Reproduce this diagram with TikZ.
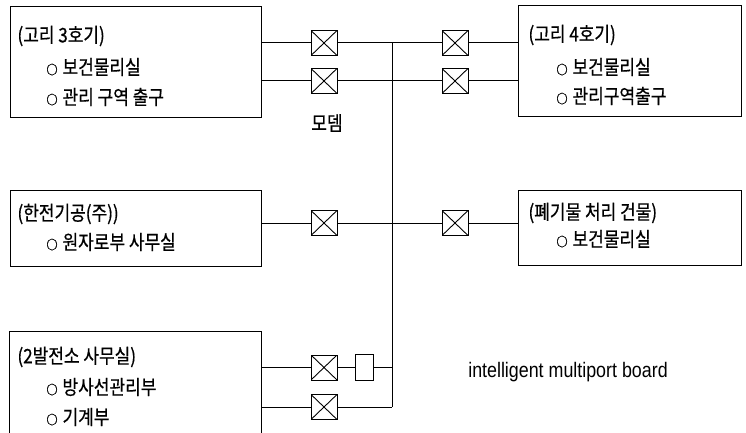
\documentclass[tikz,border=0pt]{standalone}
\usepackage{fontspec}
\setmainfont{Noto Sans CJK KR}[FakeStretch=0.85,FakeBold=0.6]
\newfontfamily\engfont{Liberation Sans}[FakeStretch=0.85]
\newcommand\mybul{{\fontsize{13}{13}\selectfont ○}\hspace{5pt}}
\begin{document}
\begin{tikzpicture}[x=1pt,y=-1pt,line width=1pt,
  box/.style={draw,rectangle,inner sep=0pt},
  modem/.style={draw,rectangle,minimum width=26pt,minimum height=25pt,inner sep=0pt,
    path picture={\draw[line width=0.9pt] (path picture bounding box.north west) -- (path picture bounding box.south east)
      (path picture bounding box.south west) -- (path picture bounding box.north east);}},
  conv/.style={draw,rectangle,minimum width=18pt,minimum height=26pt,inner sep=0pt},
  lbl/.style={anchor=west,inner sep=0pt,font=\fontsize{20}{20}\selectfont}]
\useasboundingbox (0,0) rectangle (746,433);
% boxes
\node[box,minimum width=251pt,minimum height=111pt] (b1) at (135.5,62.5) {};
\node[box,minimum width=223pt,minimum height=111pt] (b2) at (629.5,61.5) {};
\node[box,minimum width=251pt,minimum height=76pt] (b3) at (135.5,228) {};
\node[box,minimum width=223pt,minimum height=75pt] (b4) at (629.5,227.5) {};
\node[inner sep=0pt,minimum width=251pt,minimum height=101pt] (b5) at (135.5,382.5) {};
\draw (b5.south west) -- (b5.north west) -- (b5.north east) -- (b5.south east);
% texts
\node[lbl] (t11) at (17,36) {(고리 3호기)};
\node[lbl] (t12) at (46,67) {\mybul 보건물리실};
\node[lbl] (t13) at (46,97) {\mybul 관리 구역 출구};
\node[lbl] (t21) at (528,35) {(고리 4호기)};
\node[lbl] (t22) at (556,67) {\mybul 보건물리실};
\node[lbl] (t23) at (556,96) {\mybul 관리구역출구};
\node[lbl] (t31) at (17,214) {(한전기공(주))};
\node[lbl] (t32) at (46,242) {\mybul 원자로부 사무실};
\node[lbl] (t41) at (528,213) {(폐기물 처리 건물)};
\node[lbl] (t42) at (556,239) {\mybul 보건물리실};
\node[lbl] (t51) at (17,357) {(2발전소 사무실)};
\node[lbl] (t52) at (46,387) {\mybul 방사선관리부};
\node[lbl] (t53) at (46,417) {\mybul 기계부};
\node[inner sep=0pt,font=\fontsize{20}{20}\selectfont] (modemlbl) at (327,123) {모뎀};
\node[inner sep=0pt,font=\engfont\fontsize{21}{21}\selectfont] (imb) at (568,372) {intelligent multiport board};
% modems
\node[modem] (m1) at (324,43) {};
\node[modem] (m2) at (324,81) {};
\node[modem] (m3) at (455,43) {};
\node[modem] (m4) at (455,81) {};
\node[modem] (m5) at (324,223) {};
\node[modem] (m6) at (455,223) {};
\node[modem] (m7) at (324,367.5) {};
\node[modem] (m8) at (324,407) {};
\node[conv] (r) at (364,367.5) {};
\coordinate (bt) at (392,43);
\coordinate (bb) at (392,407);
% connectors
\draw (bt) -- (bb);
\draw (m1 -| b1.east) -- (m1.west);
\draw (m1.east) -- (m3.west);
\draw (m3.east) -- (m3 -| b2.west);
\draw (m2 -| b1.east) -- (m2.west);
\draw (m2.east) -- (m4.west);
\draw (m4.east) -- (m4 -| b2.west);
\draw (m5 -| b3.east) -- (m5.west);
\draw (m5.east) -- (m6.west);
\draw (m6.east) -- (m6 -| b4.west);
\draw (m7 -| b5.east) -- (m7.west);
\draw (m7.east) -- (r.west);
\draw (r.east) -- (r -| bb);
\draw (m8 -| b5.east) -- (m8.west);
\draw (m8.east) -- (bb);
\end{tikzpicture}
\end{document}
